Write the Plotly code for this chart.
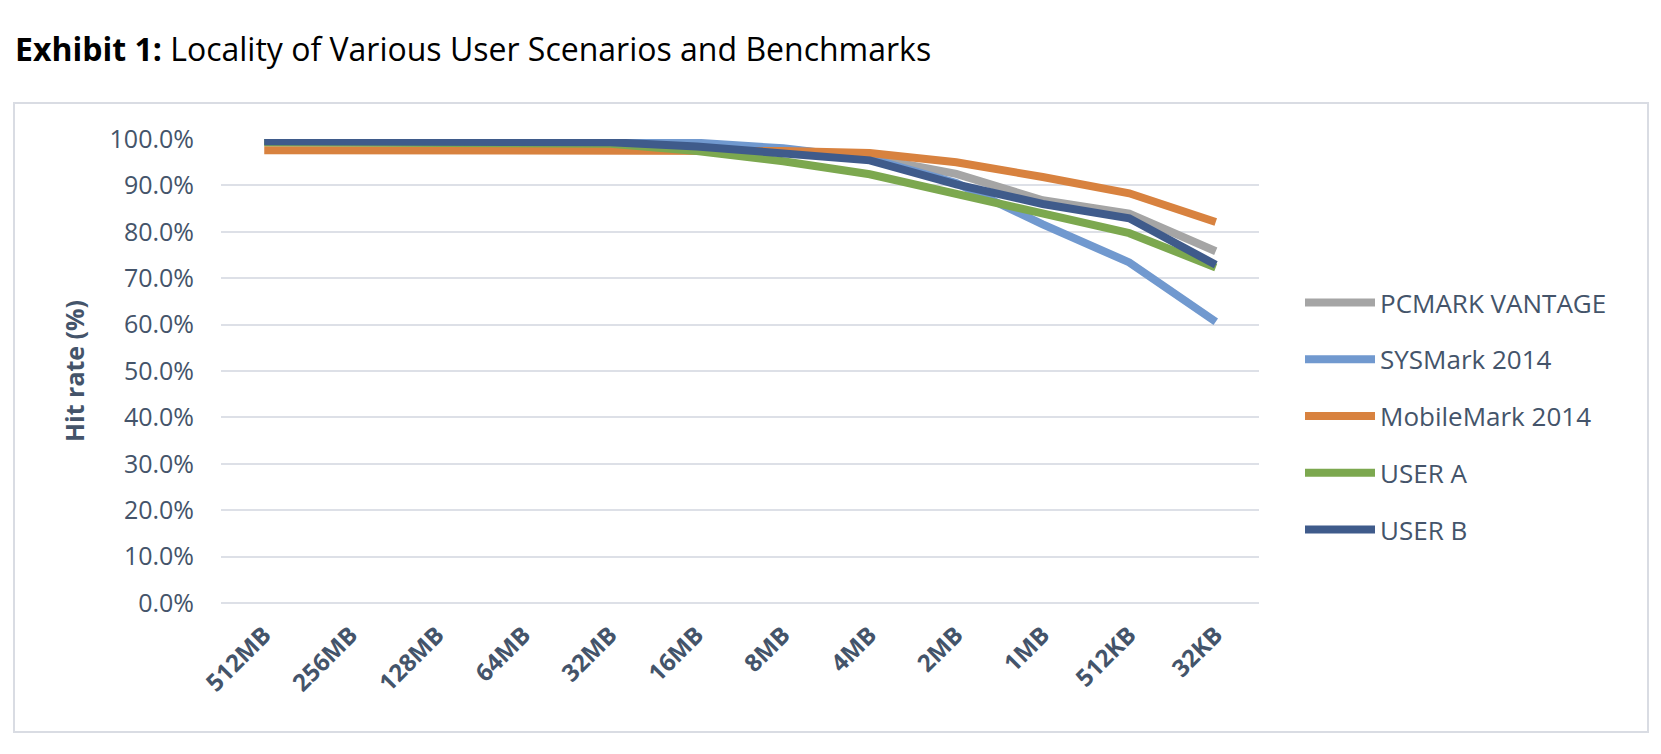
import plotly.graph_objects as go

categories = ["512MB", "256MB", "128MB", "64MB", "32MB", "16MB", "8MB", "4MB", "2MB", "1MB", "512KB", "32KB"]

pcmark_vantage = [99.5, 99.5, 99.5, 99.5, 99.4, 99.0, 97.8, 96.0, 92.5, 86.8, 83.9, 75.8]
sysmark_2014   = [99.5, 99.5, 99.5, 99.5, 99.5, 99.2, 98.0, 95.8, 90.5, 81.6, 73.4, 60.6]
mobilemark_2014 = [97.6, 97.6, 97.6, 97.6, 97.6, 97.5, 97.4, 97.0, 95.0, 91.8, 88.3, 82.1]
user_a         = [99.3, 99.3, 99.3, 99.3, 99.0, 97.4, 95.2, 92.4, 88.3, 84.0, 79.7, 72.3]
user_b         = [99.5, 99.5, 99.5, 99.5, 99.3, 98.4, 97.1, 95.4, 90.2, 86.0, 82.9, 72.9]

series_names = ["PCMARK VANTAGE", "SYSMark 2014", "MobileMark 2014", "USER A", "USER B"]
series_values = [pcmark_vantage, sysmark_2014, mobilemark_2014, user_a, user_b]
series_colors = ["#A5A5A5", "#7199CF", "#D8823F", "#7CA84F", "#3F5B8B"]

y_ticks = [0, 10, 20, 30, 40, 50, 60, 70, 80, 90, 100]

TEXT = "#44546A"
GRID = "#DDE0E7"
FONT = "Open Sans"

fig = go.Figure()
for name, vals, col in zip(series_names, series_values, series_colors):
    fig.add_trace(go.Scatter(
        x=categories, y=vals, name=name, mode="lines",
        line=dict(color=col, width=8),
        legendgroup=name,
    ))

W, H = 1661, 754
L, R, T, B = 221, 1259, 139, 603
pw, ph = R - L, B - T

def px(x):
    return (x - L) / pw

def py(y):
    return (B - y) / ph

fig.update_layout(
    width=W, height=H,
    paper_bgcolor="white", plot_bgcolor="white",
    margin=dict(l=L, r=W - R, t=T, b=H - B, autoexpand=False),
    font=dict(family=FONT, color=TEXT),
    title=dict(
        text="<b>Exhibit 1:</b> Locality of Various User Scenarios and Benchmarks",
        font=dict(family=FONT, size=32, color="black"),
        xref="container", yref="container",
        x=15 / W, xanchor="left", y=1 - 50 / H, yanchor="middle",
    ),
    xaxis=dict(
        type="category", range=[-0.5, len(categories) - 0.5],
        showgrid=False, showline=False, zeroline=False,
        tickangle=-45, ticks="", ticklabelstandoff=12,
        tickfont=dict(family=FONT, size=24, color=TEXT, weight="bold"),
    ),
    yaxis=dict(
        range=[0, 100], tickvals=y_ticks,
        ticktext=[f"{v:.1f}%" for v in y_ticks],
        showgrid=True, gridcolor=GRID, gridwidth=2,
        zeroline=True, zerolinecolor=GRID, zerolinewidth=2,
        showline=False, ticks="", ticklabelstandoff=26,
        tickfont=dict(family=FONT, size=25, color=TEXT),
        title=dict(text="<b>Hit rate (%)</b>", font=dict(family=FONT, size=25, color=TEXT), standoff=17),
    ),
    legend=dict(
        x=px(1300), xanchor="left", y=py(416), yanchor="middle",
        font=dict(family=FONT, size=26, color=TEXT),
        tracegroupgap=20, itemwidth=70,
        bgcolor="rgba(0,0,0,0)",
    ),
    shapes=[dict(
        type="rect", xref="paper", yref="paper",
        x0=px(14), x1=px(1648), y0=py(732), y1=py(103),
        line=dict(color="#D9DCE3", width=2), fillcolor="rgba(0,0,0,0)",
        layer="below",
    )],
)

fig.write_html(
    "out.html",
    config={"displayModeBar": False},
    post_script="document.body.style.margin='0';document.body.style.overflow='hidden';",
)
